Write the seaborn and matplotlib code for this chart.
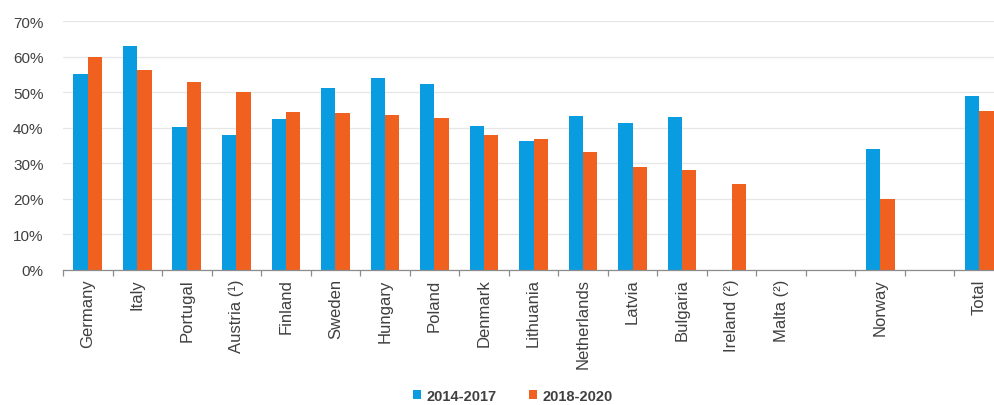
import matplotlib
matplotlib.use("Agg")
import matplotlib.pyplot as plt
from matplotlib.patches import Patch
from matplotlib.ticker import FixedLocator
import numpy as np
import pandas as pd
import seaborn as sns

# Countries (two spacer slots keep Norway and Total apart from the rest)
categories = ["Germany", "Italy", "Portugal", "Austria (¹)", "Finland", "Sweden",
              "Hungary", "Poland", "Denmark", "Lithuania", "Netherlands", "Latvia",
              "Bulgaria", "Ireland (²)", "Malta (²)", " ", "Norway", "  ", "Total"]
series_names = ["2014-2017", "2018-2020"]
share_2014_2017 = [55.1, 63.1, 40.1, 38.0, 42.5, 51.2, 54.0, 52.3, 40.6, 36.2,
                   43.4, 41.2, 42.9, np.nan, np.nan, np.nan, 34.0, np.nan, 48.8]
share_2018_2020 = [59.8, 56.3, 52.8, 50.0, 44.5, 44.1, 43.6, 42.7, 38.0, 36.8,
                   33.1, 29.0, 28.1, 24.1, np.nan, np.nan, 19.9, np.nan, 44.8]
y_ticks = [0, 10, 20, 30, 40, 50, 60, 70]

colors = ["#0A9CE0", "#F0601E"]

df = pd.DataFrame({
    "country": categories * 2,
    "period": [series_names[0]] * len(categories) + [series_names[1]] * len(categories),
    "share": share_2014_2017 + share_2018_2020,
})

sns.set_theme(style="white")
plt.rcParams["font.family"] = ["Liberation Sans", "DejaVu Sans"]

fig = plt.figure(figsize=(9.94, 4.06), dpi=100)
ax = fig.add_axes([63 / 994, 1 - 271 / 406, 941 / 994, (271 - 22) / 406])

sns.barplot(data=df, x="country", y="share", hue="period", order=categories,
            hue_order=series_names, palette=colors, width=0.58, saturation=1,
            linewidth=0, edgecolor="none", ax=ax, legend=False)

ax.set_ylim(0, 70)
ax.set_xlim(-0.5, len(categories) - 0.5)
ax.set_yticks(y_ticks)
ax.set_yticklabels([f"{v}%" for v in y_ticks], fontsize=11, color="#404040")
ax.yaxis.grid(True, color="#E6E6E6", linewidth=0.9)
ax.set_axisbelow(True)
ax.set_xlabel("")
ax.set_ylabel("")

ax.set_xticks(range(len(categories)))
ax.set_xticklabels(categories, rotation=90, fontsize=12, color="#404040")
ax.tick_params(axis="x", which="major", length=0, pad=6)
ax.tick_params(axis="y", length=0, pad=14)
ax.xaxis.set_minor_locator(FixedLocator(np.arange(-0.5, len(categories), 1.0)))
ax.tick_params(axis="x", which="minor", length=4, color="#8C8C8C", width=0.9,
               direction="out", bottom=True)

for side in ["top", "right", "left"]:
    ax.spines[side].set_visible(False)
ax.spines["bottom"].set_color("#8C8C8C")
ax.spines["bottom"].set_linewidth(0.9)

handles = [Patch(facecolor=c, edgecolor="none") for c in colors]
fig.legend(handles, series_names, loc="center", bbox_to_anchor=(513 / 994, 1 - 397 / 406),
           ncol=2, frameon=False, handlelength=0.55, handleheight=0.55,
           handletextpad=0.4, columnspacing=2.2,
           prop={"weight": "bold", "size": 10.5})
for t in fig.legends[0].get_texts():
    t.set_color("#404040")

fig.savefig("out.png", dpi=100)
